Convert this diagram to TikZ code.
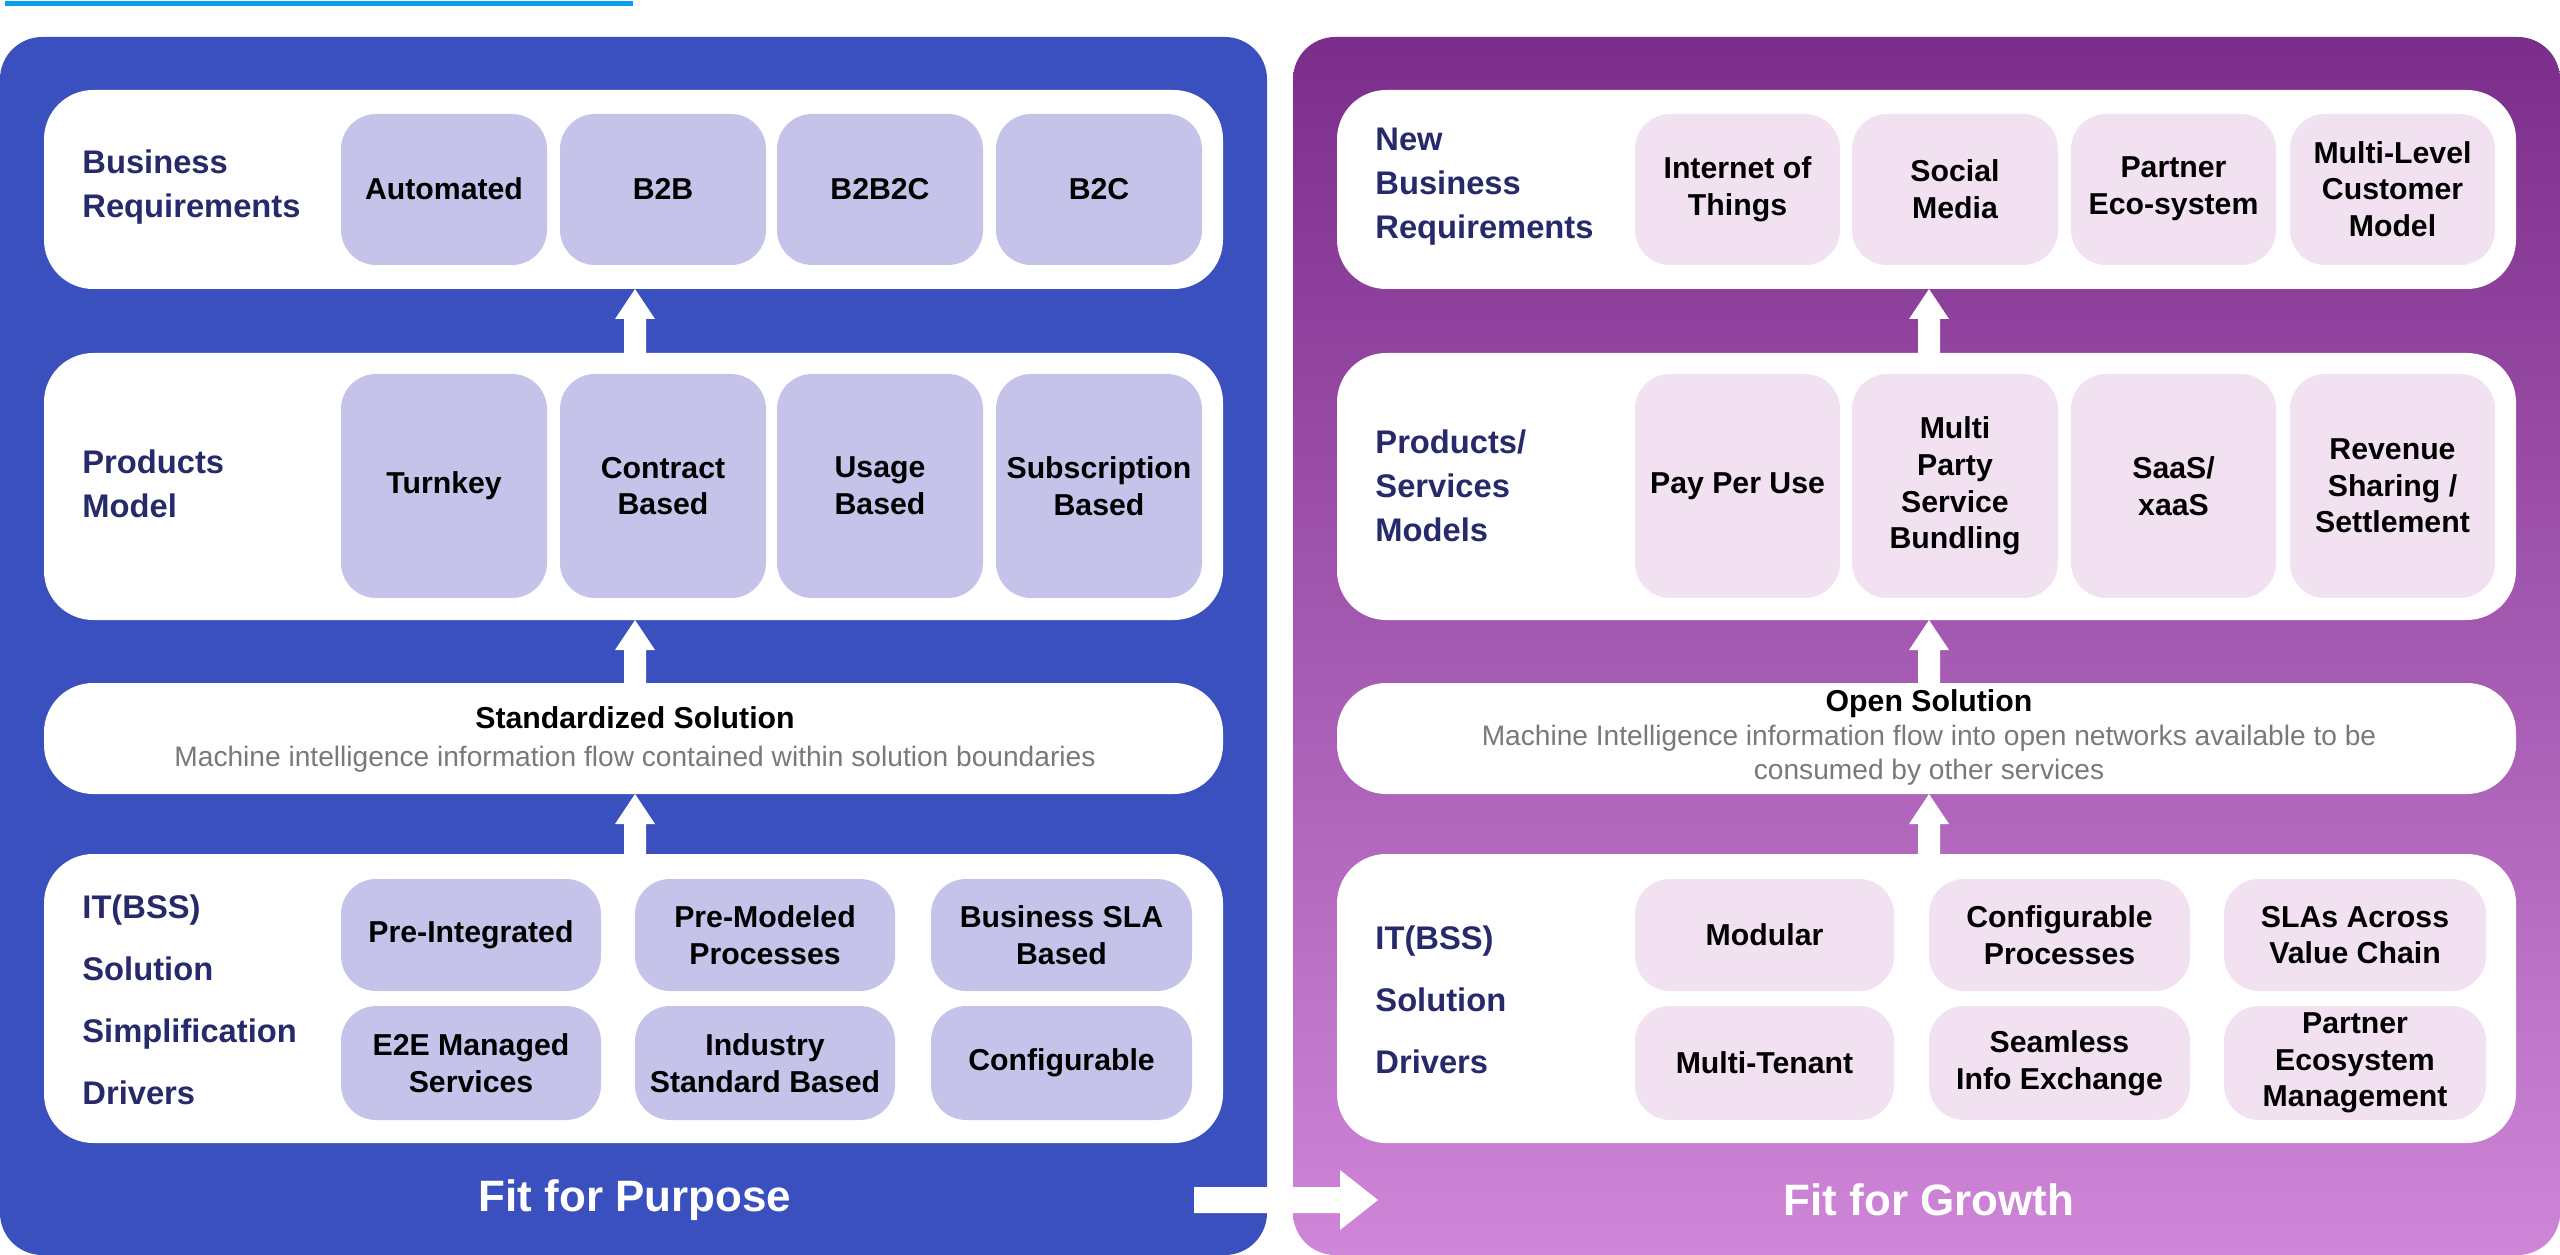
\documentclass[tikz,border=0pt]{standalone}
\usepackage{fontspec}
\setmainfont{Liberation Sans}
\usetikzlibrary{calc}
\definecolor{lblue}{HTML}{3A50BE}
\definecolor{ptop}{HTML}{7B2D8B}
\definecolor{pbot}{HTML}{CF86D8}
\definecolor{lcell}{HTML}{C5C3EA}
\definecolor{rcell}{HTML}{F2E1F0}
\definecolor{navy}{HTML}{262A6B}
\definecolor{topline}{HTML}{0AA0EE}
\begin{document}
\begin{tikzpicture}[x=0.01cm,y=-0.01cm,
  panel/.style={rounded corners=12},
  wbox/.style={fill=white,rounded corners=14},
  cell/.style={rounded corners=10},
  ctext/.style={font=\bfseries\fontsize{8.6}{10.4}\selectfont,align=center},
  lab/.style={anchor=west,align=left,text=navy,font=\bfseries\fontsize{9.3}{12.5}\selectfont},
  labit/.style={anchor=west,align=left,text=navy,font=\bfseries\fontsize{9.3}{17.6}\selectfont},
  big/.style={text=white,font=\bfseries\fontsize{12.5}{14}\selectfont},
  uparrow/.style={fill=white}]
\useasboundingbox (0,0) rectangle (2560,1255);
\fill[topline] (5,1) rectangle (633,6);
% panels
\fill[lblue,panel] (0,37) rectangle (1267,1255);
\shade[panel,top color=ptop,bottom color=pbot] (1293,37) rectangle (2560,1255);
% macro cells
\newcommand{\cellbox}[6]{\node[cell,fill=#6,minimum width=#3*1cm/100,minimum height=#4*1cm/100,ctext] (#5) at (#1,#2) {};}
% ===== LEFT =====
\foreach \y/\h/\n in {90/289/a,353/620/b,683/794/c,854/1143/d}{
  \fill[wbox] (44,\y) rectangle (1223,\h);
  \fill[wbox] (1337,\y) rectangle (2516,\h);}
% arrows up
\foreach \x in {635,1929}{
 \foreach \yb/\yt in {353/289,683/620,854/794}{
  \fill[white] (\x-11,\yb) -- (\x-11,\yt+30) -- (\x-20,\yt+30) -- (\x,\yt) -- (\x+20,\yt+30) -- (\x+11,\yt+30) -- (\x+11,\yb) -- cycle;}}
% left row1
\foreach \xa/\xb/\t [count=\i] in {341/547/Automated,560/766/B2B,777/983/B2B2C,996/1202/B2C}{
  \fill[lcell,cell] (\xa,114) rectangle (\xb,265);
  \node[ctext] (lr1\i) at ({(\xa+\xb)/2},189) {\t};}
\foreach \xa/\xb/\t [count=\i] in {341/547/Turnkey,560/766/{Contract\\Based},777/983/{Usage\\Based},996/1202/{Subscription\\Based}}{
  \fill[lcell,cell] (\xa,374) rectangle (\xb,598);
  \node[ctext] (lr2\i) at ({(\xa+\xb)/2},486) {\t};}
\node[lab] (lbr) at (70,187) {Business\\Requirements};
\node[lab] (lpm) at (70,484) {Products\\Model};
\node[font=\bfseries\fontsize{8.6}{10}\selectfont] (lss) at (635,718) {Standardized Solution};
\node[text=gray!95!black,font=\fontsize{8}{10}\selectfont] (lsd) at (635,759) {Machine intelligence information flow contained within solution boundaries};
\foreach \xa/\xb/\ta/\tb [count=\i] in {341/601/Pre-Integrated/{E2E Managed\\Services},635/895/{Pre-Modeled\\Processes}/{Industry\\Standard Based},931/1192/{Business SLA\\Based}/Configurable}{
  \fill[lcell,cell] (\xa,879) rectangle (\xb,991);
  \fill[lcell,cell] (\xa,1006) rectangle (\xb,1120);
  \node[ctext] (lr4a\i) at ({(\xa+\xb)/2},935) {\ta};
  \node[ctext] (lr4b\i) at ({(\xa+\xb)/2},1063) {\tb};}
\node[labit] (lit) at (70,1000) {IT(BSS)\\Solution\\Simplification\\Drivers};
% ===== RIGHT =====
\foreach \xa/\xb/\t [count=\i] in {1635/1840/{Internet of\\Things},1852/2058/{Social\\Media},2071/2276/{Partner\\Eco-system},2290/2495/{Multi-Level\\Customer\\Model}}{
  \fill[rcell,cell] (\xa,114) rectangle (\xb,265);
  \node[ctext] (rr1\i) at ({(\xa+\xb)/2},189) {\t};}
\foreach \xa/\xb/\t [count=\i] in {1635/1840/{Pay Per Use},1852/2058/{Multi\\Party\\Service\\Bundling},2071/2276/{SaaS/\\xaaS},2290/2495/{Revenue\\Sharing /\\Settlement}}{
  \fill[rcell,cell] (\xa,374) rectangle (\xb,598);
  \node[ctext] (rr2\i) at ({(\xa+\xb)/2},486) {\t};}
\node[lab] (rbr) at (1363,187) {New\\Business\\Requirements};
\node[lab] (rpm) at (1363,486) {Products/\\Services\\Models};
\node[font=\bfseries\fontsize{8.6}{10}\selectfont] (ros) at (1929,704) {Open Solution};
\node[text=gray!95!black,align=center,font=\fontsize{8}{9.6}\selectfont] (rod) at (1929,755) {Machine Intelligence information flow into open networks available to be\\consumed by other services};
\foreach \xa/\xb/\ta/\tb [count=\i] in {1635/1894/Modular/Multi-Tenant,1929/2190/{Configurable\\Processes}/{Seamless\\Info Exchange},2224/2486/{SLAs Across\\Value Chain}/{Partner\\Ecosystem\\Management}}{
  \fill[rcell,cell] (\xa,879) rectangle (\xb,991);
  \fill[rcell,cell] (\xa,1006) rectangle (\xb,1120);
  \node[ctext] (rr4a\i) at ({(\xa+\xb)/2},935) {\ta};
  \node[ctext] (rr4b\i) at ({(\xa+\xb)/2},1063) {\tb};}
\node[labit] (rit) at (1363,1000) {IT(BSS)\\Solution\\Drivers};
% bottom
\node[big] (fp) at (635,1200) {Fit for Purpose};
\node[big] (fg) at (1929,1200) {Fit for Growth};
\fill[white] (1194,1187) -- (1340,1187) -- (1340,1170) -- (1378,1200) -- (1340,1230) -- (1340,1213) -- (1194,1213) -- cycle;
\end{tikzpicture}
\end{document}
